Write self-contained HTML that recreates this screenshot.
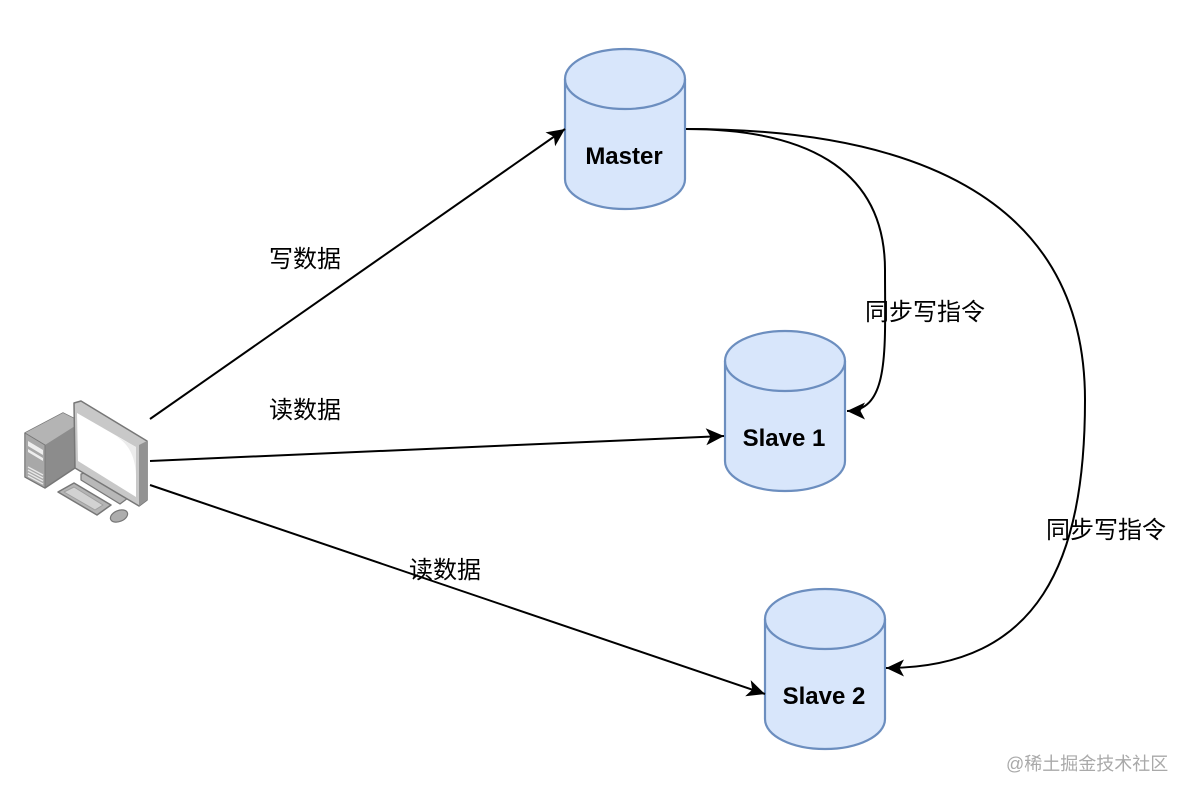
<!DOCTYPE html>
<html><head><meta charset="utf-8"><style>
html,body{margin:0;padding:0;background:#fff;width:1188px;height:796px;overflow:hidden}
svg{display:block}
.z{font-family:"Liberation Sans","Noto Sans CJK SC",sans-serif;font-size:24px;fill:#000}
.b{font-family:"Liberation Sans",sans-serif;font-size:24px;font-weight:bold;fill:#000;text-anchor:middle}
.c{fill:#d8e6fb;stroke:#6c8ebf;stroke-width:2.2}
.l{fill:none;stroke:#000;stroke-width:2}
</style></head><body>
<svg width="1188" height="796" viewBox="0 0 1188 796" xmlns="http://www.w3.org/2000/svg">
<defs>
<marker id="a" markerUnits="userSpaceOnUse" markerWidth="20" markerHeight="20" refX="18" refY="9" orient="auto"><path d="M0 0.5L18 9L0 17.5L4.5 9Z" fill="#000"/></marker>
</defs>
<!-- cylinders -->
<g id="cyls">
<path class="c" d="M565 79C565 62 592 49 625 49S685 62 685 79V179C685 196 658 209 625 209S565 196 565 179Z"/>
<path class="c" style="fill:none" d="M565 79C565 96 592 109 625 109S685 96 685 79"/>
<path class="c" d="M725 361C725 344 752 331 785 331S845 344 845 361V461C845 478 818 491 785 491S725 478 725 461Z"/>
<path class="c" style="fill:none" d="M725 361C725 378 752 391 785 391S845 378 845 361"/>
<path class="c" d="M765 619C765 602 792 589 825 589S885 602 885 619V719C885 736 858 749 825 749S765 736 765 719Z"/>
<path class="c" style="fill:none" d="M765 619C765 636 792 649 825 649S885 636 885 619"/>
</g>
<text class="b" x="624" y="164">Master</text>
<text class="b" x="784" y="446">Slave 1</text>
<text class="b" x="824" y="704">Slave 2</text>
<!-- connectors -->
<path class="l" marker-end="url(#a)" d="M150 419L565 129"/>
<path class="l" marker-end="url(#a)" d="M150 461L724 436"/>
<path class="l" marker-end="url(#a)" d="M150 485L765 694"/>
<path class="l" marker-end="url(#a)" d="M686 129C800 129 885 165 885 270C885 350 890 411 847 411"/>
<path class="l" marker-end="url(#a)" d="M686 129C900 129 1085 190 1085 400C1085 560 1040 668 886 668"/>
<!-- labels -->
<text class="z" x="269" y="267">写数据</text>
<text class="z" x="269" y="418">读数据</text>
<text class="z" x="409" y="578">读数据</text>
<text class="z" x="865" y="320">同步写指令</text>
<text class="z" x="1046" y="538">同步写指令</text>
<text x="1006" y="770" font-family='"Liberation Sans","Noto Sans CJK SC",sans-serif' font-size="18" fill="#a9a9a9">@稀土掘金技术社区</text>
<!-- computer -->
<g stroke-linejoin="round">
<path d="M25 433L63 413L75 419V468L45 488L25 477Z" fill="#8c8c8c" stroke="#777" stroke-width="1.5"/>
<path d="M25 433L45 445L75 426V419L63 413Z" fill="#b4b4b4"/>
<path d="M25 433L45 445V488L25 477Z" fill="#a8a8a8" stroke="#777" stroke-width="1"/>
<path d="M28 441L43 450V455L28 446ZM28 449L43 458V461L28 452Z" fill="#eee"/>
<path d="M28 467L43 475M28 470L43 478M28 473L43 481M28 476L43 484" stroke="#e8e8e8" stroke-width="1.3"/>
<path d="M81 474V480L120 504L128 498L88 472Z" fill="#b8b8b8" stroke="#777" stroke-width="1.2"/>
<path d="M74 403L81 401L147 441V500L139 506L75 468Z" fill="#c8c8c8" stroke="#777" stroke-width="1.5"/>
<path d="M139 445L147 441V500L139 506Z" fill="#939393"/>
<path d="M77 413L136 447L136 497L78 461Z" fill="#fff"/>
<path d="M112 434L136 447V475C135 455 128 442 112 434Z" fill="#ececec"/>
<path d="M58 492L74 483L111 505L97 515Z" fill="#b4b4b4" stroke="#777" stroke-width="1.5"/>
<path d="M64 492L74 487L103 505L95 510Z" fill="#d2d2d2" stroke="#a0a0a0" stroke-width="1"/>
<ellipse cx="119" cy="516" rx="9" ry="5.5" fill="#adadad" stroke="#777" stroke-width="1.2" transform="rotate(-22 119 516)"/>
</g>
</svg>
</body></html>
